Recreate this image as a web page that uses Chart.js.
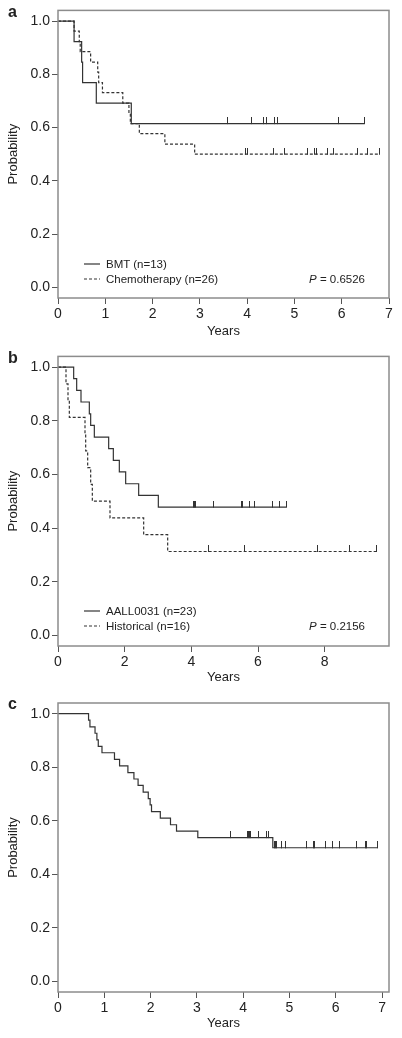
<!DOCTYPE html>
<html><head><meta charset="utf-8">
<script src="https://cdn.jsdelivr.net/npm/chart.js@4.4.0/dist/chart.umd.min.js"></script>
<style>
html,body{margin:0;padding:0;background:#fff;}
#wrap{position:relative;width:402px;height:1038px;font-family:"Liberation Sans",Arial,sans-serif;color:#222;}
.panel{position:absolute;left:0;width:402px;height:346px;}
.panel canvas{position:absolute;left:0;top:0;}
.letter{position:absolute;left:8px;top:3px;font-weight:bold;font-size:16px;line-height:18px;}
.leg{position:absolute;left:84px;font-size:11.5px;line-height:14px;height:14px;white-space:nowrap;}
.leg svg{display:inline-block;vertical-align:top;margin-top:6px;margin-right:6px;}
.pval{position:absolute;right:37px;font-size:11.5px;line-height:14px;white-space:nowrap;}
</style></head>
<body><div id="wrap">
<div class="panel" style="top:0">
  <canvas id="ca" width="402" height="346"></canvas>
  <div class="letter">a</div>
  <div class="leg" style="top:257px"><svg width="16" height="2"><line x1="0" y1="1" x2="16" y2="1" stroke="#333" stroke-width="1.2"/></svg>BMT (n=13)</div>
  <div class="leg" style="top:272px"><svg width="16" height="2"><line x1="0" y1="1" x2="16" y2="1" stroke="#333" stroke-width="1.2" stroke-dasharray="3,2"/></svg>Chemotherapy (n=26)</div>
  <div class="pval" style="top:272px"><i>P</i> = 0.6526</div>
</div>
<div class="panel" style="top:346px">
  <canvas id="cb" width="402" height="346"></canvas>
  <div class="letter">b</div>
  <div class="leg" style="top:258px"><svg width="16" height="2"><line x1="0" y1="1" x2="16" y2="1" stroke="#333" stroke-width="1.2"/></svg>AALL0031 (n=23)</div>
  <div class="leg" style="top:273px"><svg width="16" height="2"><line x1="0" y1="1" x2="16" y2="1" stroke="#333" stroke-width="1.2" stroke-dasharray="3,2"/></svg>Historical (n=16)</div>
  <div class="pval" style="top:273px"><i>P</i> = 0.2156</div>
</div>
<div class="panel" style="top:692px">
  <canvas id="cc" width="402" height="346"></canvas>
  <div class="letter">c</div>
</div>
</div>
<script>
// ---- Panel a ----
const bmtTimes  = [0, 0.34, 0.50, 0.52, 0.81, 1.55, 6.48];
const bmtSurv   = [1, 0.923, 0.846, 0.769, 0.692, 0.615, 0.615];
const bmtCensor = [3.59, 4.09, 4.35, 4.41, 4.58, 4.64, 5.93, 6.48];
const chemoTimes  = [0, 0.34, 0.45, 0.47, 0.69, 0.84, 0.86, 0.94, 1.37, 1.50, 1.53, 1.72, 2.26, 2.89, 6.79];
const chemoSurv   = [1, 0.962, 0.923, 0.885, 0.846, 0.808, 0.769, 0.731, 0.692, 0.654, 0.615, 0.577, 0.538, 0.5, 0.5];
const chemoCensor = [3.97, 4.01, 4.56, 4.78, 5.27, 5.42, 5.46, 5.69, 5.83, 6.33, 6.55, 6.79];
const aXTicks = [0, 1, 2, 3, 4, 5, 6, 7];
const aXLabels = ['0', '1', '2', '3', '4', '5', '6', '7'];

// ---- Panel b ----
const aallTimes  = [0, 0.47, 0.56, 0.69, 0.94, 0.98, 1.09, 1.52, 1.66, 1.84, 2.03, 2.42, 3.01, 6.85];
const aallSurv   = [1, 0.957, 0.913, 0.870, 0.826, 0.783, 0.739, 0.696, 0.652, 0.609, 0.565, 0.522, 0.478, 0.478];
const aallCensor = [4.07, 4.10, 4.13, 4.67, 5.50, 5.53, 5.75, 5.90, 6.42, 6.63, 6.85];
const histTimes  = [0, 0.24, 0.30, 0.34, 0.81, 0.83, 0.89, 0.98, 1.03, 1.56, 2.57, 3.29, 9.54];
const histSurv   = [1, 0.9375, 0.875, 0.8125, 0.75, 0.6875, 0.625, 0.5625, 0.5, 0.4375, 0.375, 0.3125, 0.3125];
const histCensor = [4.51, 5.58, 7.77, 8.75, 9.54];
const bXTicks = [0, 2, 4, 6, 8];
const bXLabels = ['0', '2', '4', '6', '8'];

// ---- Panel c ----
const allTimes  = [0, 0.66, 0.69, 0.80, 0.84, 0.87, 0.95, 1.22, 1.33, 1.51, 1.64, 1.73, 1.84, 1.95, 1.99, 2.02, 2.21, 2.43, 2.56, 3.02, 4.64, 6.90];
const allSurv   = [1, 0.976, 0.951, 0.927, 0.902, 0.878, 0.854, 0.829, 0.805, 0.780, 0.756, 0.732, 0.707, 0.683, 0.659, 0.634, 0.610, 0.585, 0.561, 0.537, 0.499, 0.499];
const allCensor = [3.73, 4.09, 4.11, 4.13, 4.15, 4.34, 4.50, 4.54, 4.67, 4.69, 4.72, 4.82, 4.91, 5.36, 5.51, 5.54, 5.78, 5.93, 6.07, 6.44, 6.64, 6.66, 6.90];
const cXTicks = [0, 1, 2, 3, 4, 5, 6, 7];
const cXLabels = ['0', '1', '2', '3', '4', '5', '6', '7'];

// ---- shared y axis ----
const yTicks = [0, 0.2, 0.4, 0.6, 0.8, 1.0];
const yLabels = ['0.0', '0.2', '0.4', '0.6', '0.8', '1.0'];

const FAMILY = '"Liberation Sans", Arial, sans-serif';
const INK = '#333';

function stepPoints(times, surv) { return times.map((t, i) => ({x: t, y: surv[i]})); }
function survAt(times, surv, t) {
  let s = surv[0];
  for (let i = 0; i < times.length; i++) if (times[i] <= t + 1e-9) s = surv[i];
  return s;
}
function censorPoints(times, surv, cens) { return cens.map(t => ({x: t, y: survAt(times, surv, t)})); }
function tickMark(color) {
  const c = document.createElement('canvas');
  c.width = 1; c.height = 13;
  const g = c.getContext('2d');
  g.fillStyle = color; g.fillRect(0, 0, 1, 7);
  return c;
}
const TICK = tickMark(INK);

function curve(times, surv, dashed) {
  return {data: stepPoints(times, surv), stepped: true, borderColor: INK, borderWidth: 1.2,
          borderDash: dashed ? [3, 2] : [], pointRadius: 0, fill: false, tension: 0};
}
function censors(times, surv, cens) {
  return {data: censorPoints(times, surv, cens), showLine: false, pointStyle: TICK,
          pointRadius: 3, borderWidth: 0};
}

const framePlugin = {
  id: 'frame',
  afterDraw(chart) {
    const {ctx, chartArea: a} = chart;
    ctx.save();
    ctx.strokeStyle = '#8c8c8c'; ctx.lineWidth = 1.5;
    ctx.strokeRect(a.left, a.top, a.right - a.left, a.bottom - a.top);
    ctx.restore();
  }
};

function makeChart(id, cfg) {
  return new Chart(document.getElementById(id), {
    type: 'line',
    data: {datasets: cfg.datasets},
    options: {
      responsive: false, animation: false, events: [],
      layout: {padding: {top: cfg.top, right: 13, left: 0, bottom: 0}},
      plugins: {legend: {display: false}, tooltip: {enabled: false}},
      scales: {
        x: {
          type: 'linear', min: 0, max: cfg.xMax,
          afterFit(s) { s.height = cfg.xh; },
          afterBuildTicks(s) { s.ticks = cfg.xTicks.map(v => ({value: v})); },
          ticks: {callback: (v, i) => cfg.xLabels[i], autoSkip: false, maxRotation: 0, padding: 2,
                  color: '#222', font: {family: FAMILY, size: 14}},
          grid: {drawOnChartArea: false, drawTicks: true, tickLength: 6, color: '#555', lineWidth: 1},
          border: {display: false},
          title: {display: true, text: 'Years', color: '#222', font: {family: FAMILY, size: 13},
                  padding: {top: 0, bottom: 7}}
        },
        y: {
          type: 'linear', min: -0.04, max: 1.04,
          afterFit(s) { s.width = 58; },
          afterBuildTicks(s) { s.ticks = yTicks.map(v => ({value: v})); },
          ticks: {callback: (v, i) => yLabels[i], autoSkip: false, padding: 2,
                  color: '#222', font: {family: FAMILY, size: 14}},
          grid: {drawOnChartArea: false, drawTicks: true, tickLength: 6, color: '#555', lineWidth: 1},
          border: {display: false},
          title: {display: true, text: 'Probability', color: '#222', font: {family: FAMILY, size: 13},
                  padding: {top: 6, bottom: 0}}
        }
      }
    },
    plugins: [framePlugin]
  });
}

makeChart('ca', {
  top: 8, xh: 48, xMax: 7, xTicks: aXTicks, xLabels: aXLabels,
  datasets: [curve(bmtTimes, bmtSurv, false), curve(chemoTimes, chemoSurv, true),
             censors(bmtTimes, bmtSurv, bmtCensor), censors(chemoTimes, chemoSurv, chemoCensor)]
});
makeChart('cb', {
  top: 9, xh: 46, xMax: 9.93, xTicks: bXTicks, xLabels: bXLabels,
  datasets: [curve(aallTimes, aallSurv, false), curve(histTimes, histSurv, true),
             censors(aallTimes, aallSurv, aallCensor), censors(histTimes, histSurv, histCensor)]
});
makeChart('cc', {
  top: 11, xh: 46, xMax: 7.15, xTicks: cXTicks, xLabels: cXLabels,
  datasets: [curve(allTimes, allSurv, false), censors(allTimes, allSurv, allCensor)]
});
</script>
</body></html>
